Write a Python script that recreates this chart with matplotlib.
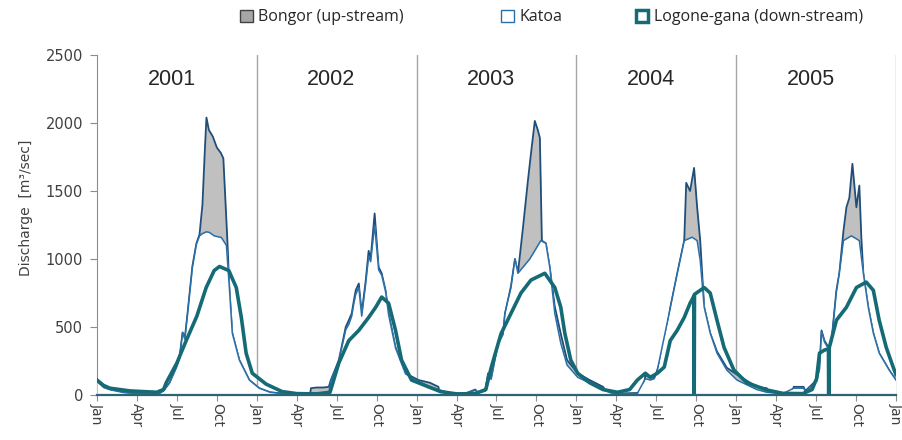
import matplotlib.pyplot as plt
from matplotlib.patches import Patch

plt.rcParams['font.family'] = ['DejaVu Sans']

# months since Jan 2001 and discharge (m3/sec)
bongor_t = [0, 0.5, 1.0, 1.5, 2.0, 3.0, 4.0, 4.7, 5.0, 5.46, 5.98, 6.2, 6.43, 6.6, 6.8, 7.17, 7.47, 7.7, 7.92, 8.1,
            8.22, 8.4, 8.7, 9.0, 9.3, 9.49, 9.79, 9.94, 10.16, 10.69, 11.44, 12.18, 13.0, 14.0, 15.0, 16.0, 16.07,
            16.5, 17.0, 17.41, 17.56, 18.16, 18.68, 18.91, 19.13, 19.3, 19.43, 19.66, 19.88, 20.18, 20.4, 20.55,
            20.85, 21.15, 21.38, 21.67, 21.9, 22.42, 23.17, 24.14, 25.0, 25.64, 25.7, 26.5, 27.5, 28.4, 28.6, 29.15,
            29.37, 29.6, 30.12, 30.49, 30.64, 30.87, 31.09, 31.39, 31.61, 31.99, 32.36, 32.59, 32.88, 33.1, 33.26,
            33.41, 33.71, 34.0, 34.38, 34.83, 35.3, 36.1, 37.0, 38.0, 38.3, 39.09, 40.58, 41.0, 41.18, 41.55, 41.85,
            42.08, 42.6, 43.05, 43.57, 44.1, 44.25, 44.54, 44.84, 45.07, 45.3, 45.6, 46.05, 46.56, 47.3, 48.06,
            49.55, 50.3, 50.52, 51.5, 52.2, 52.32, 53.06, 53.2, 54.04, 54.26, 54.41, 54.63, 54.93, 55.16, 55.53,
            55.75, 56.05, 56.28, 56.5, 56.73, 57.03, 57.25, 57.4, 57.55, 57.92, 58.3, 58.74, 59.49, 60.0]
bongor_q = [115, 60, 40, 30, 20, 10, 5, 15, 35, 90, 210, 280, 460, 420, 600, 950, 1115, 1180, 1400, 1800,
            2040, 1950, 1900, 1820, 1780, 1740, 1140, 790, 455, 257, 110, 50, 20, 10, 5, 5, 50,
            55, 55, 60, 110, 255, 500, 550, 600, 700, 770, 820, 600, 840, 1060, 1000,
            1335, 940, 895, 770, 600, 350, 160, 110, 90, 60, 30, 15, 5, 40, 20, 30,
            160, 120, 380, 450, 600, 700, 800, 1000, 895, 1230, 1575, 1775, 2015, 1950, 1890,
            1135, 1115, 940, 650, 450, 257, 160, 110, 60, 20, 10, 15, 20, 145, 130, 125,
            183, 350, 640, 890, 1135, 1560, 1500, 1670, 1380, 1135, 645, 455, 320, 200, 150,
            60, 50, 15, 10, 10, 60, 60, 30, 110, 200, 475, 400, 350, 400, 770,
            895, 1200, 1380, 1450, 1700, 1380, 1540, 1160, 895, 645, 455, 308, 183, 110]

katoa_t = [0, 0.5, 1.0, 1.5, 2.0, 3.0, 4.0, 4.7, 5.0, 5.46, 5.98, 6.2, 6.43, 6.6, 6.8, 7.17, 7.47, 7.7, 7.92, 8.22,
           8.45, 8.8, 9.34, 9.72, 9.94, 10.16, 10.69, 11.44, 12.18, 13.0, 14.0, 15.0, 16.0, 16.07, 17.41, 17.56,
           18.16, 18.68, 18.91, 19.13, 19.3, 19.43, 19.66, 19.88, 20.18, 20.4, 20.55, 20.85, 21.15, 21.38, 21.67,
           21.9, 22.42, 23.17, 24.14, 25.0, 25.64, 26.5, 27.5, 28.4, 28.6, 29.15, 29.37, 29.6, 30.12, 30.49, 30.64,
           30.87, 31.09, 31.39, 31.61, 32.5, 33.33, 33.71, 34.0, 34.38, 34.83, 35.3, 36.1, 37.0, 37.8, 38.6, 39.09,
           40.58, 41.18, 41.55, 41.85, 42.08, 43.05, 43.57, 44.1, 44.69, 45.07, 45.3, 45.6, 46.05, 46.56, 47.3,
           48.06, 49.55, 50.3, 51.5, 52.32, 53.06, 53.2, 54.04, 54.26, 54.41, 54.63, 54.93, 55.16, 55.53, 55.75,
           56.05, 56.65, 57.25, 57.55, 57.92, 58.3, 58.74, 59.49, 60.0]
katoa_q = [100, 55, 38, 28, 18, 10, 5, 12, 30, 90, 205, 270, 455, 410, 590, 940, 1110, 1170, 1187, 1200,
           1195, 1170, 1158, 1100, 790, 455, 257, 110, 50, 20, 10, 5, 5, 12, 15, 100,
           250, 480, 520, 580, 680, 740, 790, 580, 820, 1020, 980, 1250, 920, 880, 760,
           590, 345, 155, 100, 60, 40, 15, 5, 35, 18, 28, 155, 115, 375, 445, 600,
           700, 790, 1000, 895, 1000, 1135, 1115, 940, 600, 380, 220, 130, 88, 45, 15, 10,
           12, 120, 110, 120, 183, 640, 890, 1135, 1160, 1135, 990, 645, 455, 308, 183,
           110, 40, 20, 10, 50, 50, 25, 100, 190, 465, 390, 340, 390, 760, 895,
           1135, 1170, 1135, 895, 645, 455, 308, 183, 110]

logone_t = [0, 0.5, 0.97, 2.47, 4.48, 5.0, 5.2, 6.0, 6.4, 6.7, 7.5, 8.2, 8.8, 9.2, 9.9, 10.46, 10.84, 11.2, 11.66,
            12.7, 13.9, 15.0, 16.5, 17.5, 18.16, 18.91, 19.66, 20.4, 20.93, 21.38, 21.9, 22.42, 22.87, 23.62, 24.89,
            25.8, 27.0, 28.4, 29.2, 29.6, 30.34, 31.09, 31.84, 32.59, 33.63, 34.38, 34.83, 35.13, 35.58, 36.1,
            37.0, 38.0, 39.09, 40.0, 40.58, 41.18, 41.55, 42.08, 42.6, 43.05, 43.57, 44.1, 44.54, 44.84, 44.85,
            44.87, 45.6, 46.05, 46.56, 47.09, 47.83, 48.8, 50.3, 51.5, 53.0, 53.7, 54.04, 54.26, 54.63, 54.93,
            54.95, 54.97, 55.53, 56.28, 57.03, 57.77, 58.3, 58.74, 59.27, 59.79, 60.0]
logone_q = [110, 70, 50, 30, 20, 40, 90, 235, 330, 400, 580, 790, 915, 945, 915, 790, 570, 308, 160,
            80, 25, 10, 8, 20, 235, 400, 475, 570, 645, 720, 675, 475, 257, 110, 60,
            25, 8, 10, 40, 200, 450, 600, 750, 845, 895, 790, 645, 455, 257, 160,
            90, 40, 20, 40, 110, 160, 130, 160, 205, 400, 475, 570, 675, 730, 0,
            740, 790, 750, 550, 350, 183, 90, 37, 12, 10, 40, 120, 308, 330, 340,
            0, 340, 550, 645, 790, 830, 770, 550, 350, 205, 150]

years = ['2001', '2002', '2003', '2004', '2005']
month_labels = ['Jan', 'Apr', 'Jul', 'Oct']

fig = plt.figure(figsize=(9.03, 4.40), dpi=100)
ax = fig.add_axes([0.1074, 0.1023, 0.8848, 0.7727])

# Bongor: grey area, Katoa: white area on top, Logone-gana: thick line
ax.fill_between(bongor_t, bongor_q, color='#c0c0c0', lw=0, zorder=2)
ax.plot(bongor_t, bongor_q, color='#1f4e79', lw=1.3, zorder=3)
ax.fill_between(katoa_t, katoa_q, color='white', lw=0, zorder=4)
ax.plot(katoa_t, katoa_q, color='#2a6fa8', lw=1.1, zorder=5)
ax.plot(logone_t, logone_q, color='#156b75', lw=2.6, zorder=6)

# year separators and year labels
for i, y in enumerate(years):
    ax.axvline(12 * (i + 1), color='#a6a6a6', lw=1, zorder=1)
    ax.text(12 * i + 5.6, 2320, y, fontsize=15.5, ha='center', va='center', color='#262626',
            family=['Liberation Sans', 'DejaVu Sans'])

ax.set_xlim(0, 60)
ax.set_ylim(0, 2500)
ax.set_xticks(range(0, 61, 3))
ax.set_xticklabels(month_labels * 5 + ['Jan'], rotation=270, fontsize=10, color='#404040')
ax.set_yticks(range(0, 2501, 500))
ax.tick_params(axis='y', labelsize=10.5, colors='#404040', length=5, color='#8c8c8c', pad=5)
ax.tick_params(axis='x', length=4, color='#8c8c8c', pad=2)
ax.set_ylabel('Discharge  [m³/sec]', fontsize=10, color='#404040')
ax.yaxis.set_label_coords(-0.08, 0.55)

ax.spines['top'].set_visible(False)
ax.spines['right'].set_visible(False)
ax.spines['left'].set_color('#8c8c8c')
ax.spines['bottom'].set_color('#2a6475')
ax.spines['bottom'].set_linewidth(1.6)
ax.spines['bottom'].set_zorder(7)

# legend entries placed one by one across the top
legend_items = [(Patch(facecolor='#a6a6a6', edgecolor='#404040', lw=1), 'Bongor (up-stream)', 0.257),
                (Patch(facecolor='white', edgecolor='#2a6fa8', lw=1), 'Katoa', 0.546),
                (Patch(facecolor='white', edgecolor='#156b75', lw=2.5), 'Logone-gana (down-stream)', 0.695)]
for h, lab, xpos in legend_items:
    leg = fig.legend([h], [lab], loc='center left', bbox_to_anchor=(xpos, 0.961), frameon=False,
                     borderpad=0, handlelength=0.8, handleheight=0.8, handletextpad=0.35,
                     prop={'family': 'Open Sans', 'size': 11.5}, labelcolor='#262626')

plt.savefig('out.png', dpi=100)
